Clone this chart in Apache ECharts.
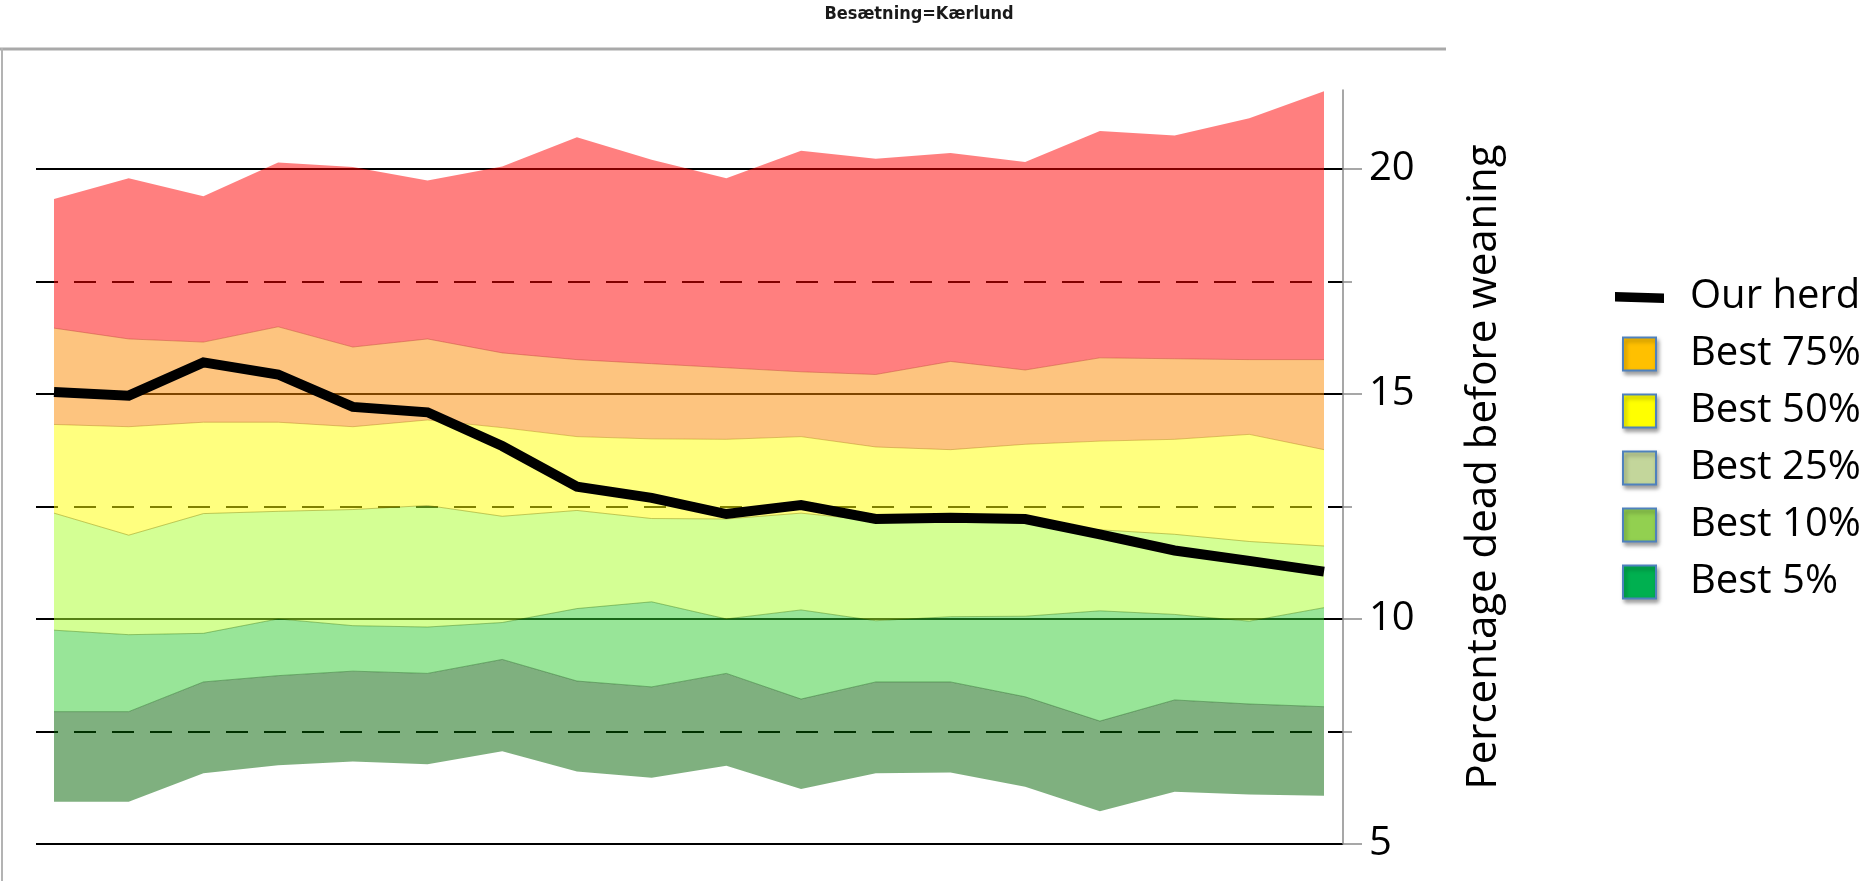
<!DOCTYPE html>
<html>
<head>
<meta charset="utf-8">
<script src="https://cdn.jsdelivr.net/npm/echarts@6/dist/echarts.min.js"></script>
<style>
  html, body { margin: 0; padding: 0; background: #fff; }
  #chart { width: 1866px; height: 881px; }
</style>
</head>
<body>
<div id="chart"></div>
<script>
  // periods on the x axis (the original shows no labels for them)
  const periods = ['1', '2', '3', '4', '5', '6', '7', '8', '9', '10', '11', '12', '13', '14', '15', '16', '17', '18'];

  // band boundaries, percentage dead before weaning
  const worstTop = [19.33, 19.79, 19.39, 20.14, 20.04, 19.74, 20.05, 20.70, 20.20, 19.79, 20.40, 20.22, 20.35, 20.15, 20.84, 20.74, 21.12, 21.72];
  const best75 = [16.46, 16.22, 16.15, 16.49, 16.04, 16.22, 15.91, 15.76, 15.67, 15.58, 15.49, 15.43, 15.72, 15.53, 15.80, 15.78, 15.76, 15.76];
  const best50 = [14.32, 14.27, 14.37, 14.37, 14.27, 14.42, 14.25, 14.05, 14.00, 13.99, 14.05, 13.82, 13.76, 13.88, 13.95, 13.99, 14.10, 13.76];
  const best25 = [12.35, 11.86, 12.34, 12.39, 12.43, 12.52, 12.28, 12.41, 12.23, 12.22, 12.35, 12.18, 12.20, 12.12, 11.98, 11.88, 11.72, 11.62];
  const best10 = [9.75, 9.65, 9.68, 10.00, 9.85, 9.82, 9.92, 10.23, 10.38, 10.00, 10.20, 9.96, 10.05, 10.06, 10.18, 10.10, 9.95, 10.25];
  const best5 = [7.94, 7.94, 8.60, 8.74, 8.84, 8.79, 9.10, 8.62, 8.49, 8.79, 8.22, 8.60, 8.60, 8.27, 7.73, 8.20, 8.11, 8.05];
  const bestMin = [5.94, 5.94, 6.57, 6.75, 6.83, 6.77, 7.06, 6.61, 6.47, 6.74, 6.22, 6.57, 6.59, 6.27, 5.73, 6.16, 6.10, 6.07];
  const ourHerd = [15.04, 14.96, 15.70, 15.43, 14.71, 14.59, 13.84, 12.94, 12.69, 12.33, 12.53, 12.22, 12.25, 12.22, 11.88, 11.52, 11.29, 11.05];

  // y axis ticks
  const yMajorTicks = [5, 10, 15, 20];
  const yMinorTicks = [7.5, 12.5, 17.5];
  const yMin = 5;
  const yMax = 21.75;

  const yName = 'Percentage dead before weaning';
  const legendNames = ['Our herd', 'Best 75%', 'Best 50%', 'Best 25%', 'Best 10%', 'Best 5%'];
  const legendColors = ['#000000', '#FFC000', '#FFFF00', '#C3D69B', '#92D050', '#00B050'];

  const font = "'Open Sans', sans-serif";
  const diff = (top, bottom) => top.map((v, i) => +(v - bottom[i]).toFixed(3));

  function band(name, top, bottom, fill, edge) {
    return {
      name: name,
      type: 'line',
      xAxisIndex: 1,
      yAxisIndex: 2,
      stack: 'band',
      symbol: 'none',
      data: diff(top, bottom),
      lineStyle: { width: edge ? 1 : 0, color: edge || fill },
      itemStyle: { color: fill },
      areaStyle: { color: fill, opacity: 0.5 },
      emphasis: { disabled: true }
    };
  }

  const lineIcon = 'path://M0,0M73,34M12,12L61,13.5L61,23L12,21.5Z';
  const boxIcon = 'path://M0,0M73,34M20,0.5h33v33h-33Z';

  let myChart = echarts.init(document.getElementById('chart'));
  let option = {
    animation: false,
    graphic: [
      { type: 'line', shape: { x1: 0, y1: 49, x2: 1446, y2: 49 }, style: { stroke: '#a9a9a9', lineWidth: 3 } },
      { type: 'line', shape: { x1: 2, y1: 48, x2: 2, y2: 881 }, style: { stroke: '#b3b3b3', lineWidth: 2 } },
      {
        type: 'text', x: 919, y: 14,
        style: {
          text: 'Besætning=Kærlund', align: 'center', verticalAlign: 'middle',
          font: "bold 18px 'DejaVu Sans Condensed', sans-serif", fill: '#1a1a1a'
        }
      }
    ],
    legend: {
      orient: 'vertical',
      left: 1597,
      top: 272,
      itemWidth: 73,
      itemHeight: 34,
      itemGap: 17,
      selectedMode: false,
      textStyle: { fontFamily: font, fontSize: 40, lineHeight: 40, color: '#000', padding: [0, 0, 0, 9] },
      data: legendNames.map((n, i) => i === 0
        ? { name: n, icon: lineIcon, itemStyle: { color: legendColors[i], borderWidth: 0 } }
        : {
            name: n, icon: boxIcon,
            itemStyle: {
              color: legendColors[i], borderColor: '#4F81BD', borderWidth: 2,
              shadowBlur: 4, shadowColor: 'rgba(0,0,0,0.35)', shadowOffsetX: 2, shadowOffsetY: 3
            }
          })
    },
    grid: [
      { left: 36, right: 523, top: 90, bottom: 37 },
      { left: 54, right: 542, top: 90, bottom: 37 }
    ],
    xAxis: [
      { type: 'value', gridIndex: 0, min: 0, max: 1, show: false },
      { type: 'category', gridIndex: 1, data: periods, boundaryGap: false, show: false }
    ],
    yAxis: [
      {
        type: 'value', gridIndex: 0, position: 'right', min: yMin, max: yMax,
        axisLine: { show: true, onZero: false, lineStyle: { color: '#8a8a8a', width: 1.5 } },
        axisTick: { show: true, length: 19, customValues: yMajorTicks, lineStyle: { color: '#8a8a8a', width: 1.5 } },
        axisLabel: { customValues: yMajorTicks, margin: 26, fontFamily: font, fontSize: 40, color: '#000' },
        splitLine: { show: true, lineStyle: { color: '#000', width: 2 } },
        name: yName,
        nameLocation: 'middle',
        nameRotate: 90,
        nameGap: 120,
        nameTextStyle: { fontFamily: font, fontSize: 42, color: '#000' }
      },
      {
        type: 'value', gridIndex: 0, position: 'right', min: yMin, max: yMax,
        axisLine: { show: false, onZero: false },
        axisTick: { show: true, length: 9, customValues: yMinorTicks, lineStyle: { color: '#8a8a8a', width: 1.5 } },
        axisLabel: { show: false },
        splitLine: { show: true, lineStyle: { color: '#000', width: 2, type: [22, 16] } }
      },
      { type: 'value', gridIndex: 1, min: yMin, max: yMax, show: false, splitLine: { show: false } }
    ],
    series: [
      {
        name: 'base', type: 'line', xAxisIndex: 1, yAxisIndex: 2, stack: 'band', symbol: 'none',
        data: bestMin, lineStyle: { opacity: 0 }, emphasis: { disabled: true }
      },
      band('Best 5%', best5, bestMin, '#006200', 'rgba(0,70,0,0.35)'),
      band('Best 10%', best10, best5, '#31CB31', 'rgba(40,110,0,0.4)'),
      band('Best 25%', best25, best10, '#AAFF29', 'rgba(130,130,0,0.45)'),
      band('Best 50%', best50, best25, '#FFFF00', 'rgba(170,120,0,0.4)'),
      band('Best 75%', best75, best50, '#FB8900', 'rgba(190,70,40,0.45)'),
      band('Worst 25%', worstTop, best75, '#FF0000', null),
      {
        name: 'Our herd', type: 'line', xAxisIndex: 1, yAxisIndex: 2, symbol: 'none', z: 5,
        data: ourHerd,
        itemStyle: { color: '#000' },
        lineStyle: { color: '#000', width: 10, cap: 'butt', join: 'miter' },
        emphasis: { disabled: true }
      }
    ]
  };
  myChart.setOption(option);
</script>
</body>
</html>
